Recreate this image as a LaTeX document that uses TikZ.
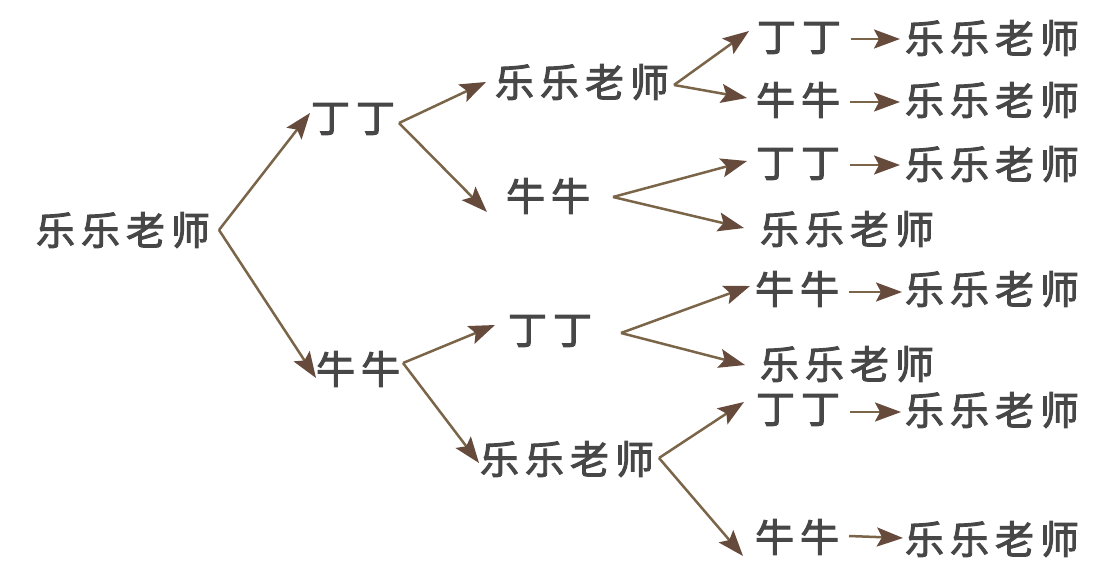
\documentclass[tikz,border=0pt]{standalone}
\usepackage{fontspec}
\newfontfamily\cjk[FakeBold=2.5]{Noto Sans CJK SC}
\usetikzlibrary{arrows.meta}
\definecolor{txt}{HTML}{474747}
\definecolor{lnc}{HTML}{7A6549}
\definecolor{tipc}{HTML}{664A3C}
\newcommand\gp{\hspace{6pt}}
\newcommand\LL{乐\gp 乐\gp 老\gp 师}
\newcommand\DD{丁\gp 丁}
\newcommand\NN{牛\gp 牛}
\tikzset{
  bigtip/.tip={Stealth[length=26pt,width=19pt,inset=5pt,color=tipc,fill=tipc]},
  word/.style={inner sep=0pt, outer sep=0pt, anchor=center, text=txt, font=\cjk\fontsize{39pt}{41pt}\selectfont},
  arr/.style={draw=lnc, line width=2.5pt, arrows={-bigtip}}
}
\begin{document}
\begin{tikzpicture}[x=1pt,y=-1pt]
\useasboundingbox[fill=white] (0,0) rectangle (1107,567);
% level 0
\node[word] (r) at (123,230) {\LL};
% level 1
\node[word] (a) at (353,119) {\DD};
\node[word] (b) at (358,369) {\NN};
% level 2
\node[word] (aa) at (582,82) {\LL};
\node[word] (ab) at (548,196) {\NN};
\node[word] (ba) at (550,331) {\DD};
\node[word] (bb) at (567,459) {\LL};
% level 3
\node[word] (aaa) at (799,38) {\DD};
\node[word] (aab) at (798,100) {\NN};
\node[word] (aba) at (798,164) {\DD};
\node[word] (abb) at (847,229) {\LL};
\node[word] (baa) at (797,289) {\NN};
\node[word] (bab) at (847,364) {\LL};
\node[word] (bba) at (798,410) {\DD};
\node[word] (bbb) at (797,537) {\NN};
% level 4
\node[word] (aaaa) at (992,38) {\LL};
\node[word] (aabb) at (992,100) {\LL};
\node[word] (abaa) at (992,164) {\LL};
\node[word] (baaa) at (992,289) {\LL};
\node[word] (bbaa) at (992,410) {\LL};
\node[word] (bbbb) at (992,539) {\LL};
% connectors
\draw[arr] ([xshift=9pt]r.east) -- ([xshift=-1pt,yshift=6pt]a.west);
\draw[arr] ([xshift=9pt]r.east) -- ([yshift=-9pt]b.west);
\draw[arr] ([xshift=4pt,yshift=-4pt]a.east) -- ([xshift=-9pt]aa.west);
\draw[arr] ([xshift=4pt,yshift=-4pt]a.east) -- ([xshift=-19pt,yshift=-16pt]ab.west);
\draw[arr] ([xshift=3pt,yshift=6pt]b.east) -- ([xshift=-13pt,yshift=6pt]ba.west);
\draw[arr] ([xshift=3pt,yshift=6pt]b.east) -- ([xshift=-1pt,yshift=-4pt]bb.west);
\draw[arr] ([xshift=5pt,yshift=-3pt]aa.east) -- ([xshift=-8pt,yshift=7pt]aaa.west);
\draw[arr] ([xshift=5pt,yshift=-3pt]aa.east) -- ([xshift=-9pt,yshift=2pt]aab.west);
\draw[arr] ([xshift=23pt,yshift=-1pt]ab.east) -- ([xshift=-9pt,yshift=3pt]aba.west);
\draw[arr] ([xshift=23pt,yshift=-1pt]ab.east) -- ([xshift=-16pt,yshift=1pt]abb.west);
\draw[arr] ([xshift=29pt,yshift=-2pt]ba.east) -- ([xshift=-5pt,yshift=3pt]baa.west);
\draw[arr] ([xshift=29pt,yshift=-2pt]ba.east) -- ([xshift=-15pt,yshift=-1pt]bab.west);
\draw[arr] ([xshift=5pt,yshift=1pt]bb.east) -- ([xshift=-12pt,yshift=8pt]bba.west);
\draw[arr] ([xshift=5pt,yshift=1pt]bb.east) -- ([xshift=-12pt,yshift=-19pt]bbb.west);
\draw[arr] ([xshift=10pt,yshift=-1pt]aaa.east) -- ([xshift=-5pt,yshift=-1pt]aaaa.west);
\draw[arr] ([xshift=10pt,yshift=-2pt]aab.east) -- ([xshift=-5pt,yshift=-2pt]aabb.west);
\draw[arr] ([xshift=10pt,yshift=-1pt]aba.east) -- ([xshift=-5pt,yshift=-1pt]abaa.west);
\draw[arr] ([xshift=10pt,yshift=-3pt]baa.east) -- ([xshift=-3pt,yshift=-3pt]baaa.west);
\draw[arr] ([xshift=10pt,yshift=-2pt]bba.east) -- ([xshift=-4pt,yshift=-2pt]bbaa.west);
\draw[arr] ([xshift=10pt,yshift=1pt]bbb.east) -- ([xshift=-2pt,yshift=1pt]bbbb.west);
\end{tikzpicture}
\end{document}
